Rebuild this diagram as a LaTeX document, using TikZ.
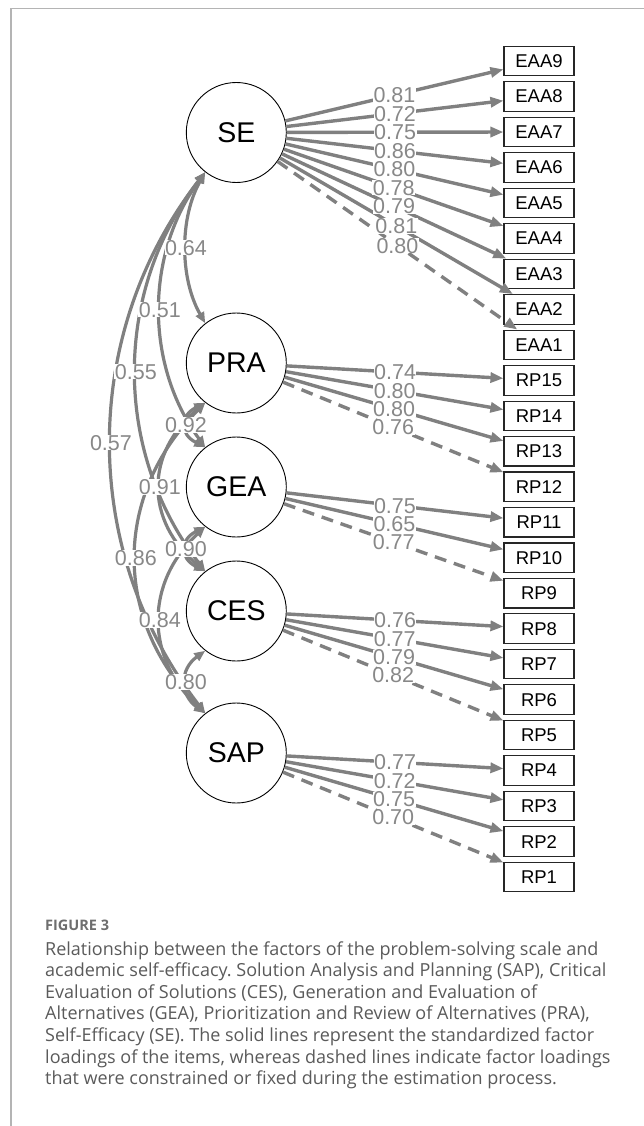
\documentclass[tikz,border=0pt]{standalone}
\usepackage{fontspec}
\setmainfont{Liberation Sans}
\newfontfamily\capfont{Open Sans}
\usetikzlibrary{arrows.meta}
\frenchspacing
\definecolor{edgegray}{HTML}{808080}
\definecolor{labgray}{HTML}{888888}
\definecolor{capgray}{HTML}{5A5A5A}
\definecolor{figgray}{HTML}{6E6E6E}
\definecolor{framegray}{HTML}{B4B4B4}
\begin{document}
\begin{tikzpicture}[x=1pt,y=-1pt,
 lat/.style={circle,draw=black,line width=0.9pt,fill=white,minimum size=100pt,inner sep=0pt,font=\fontsize{28.5}{30}\selectfont},
 item/.style={rectangle,draw=black!85,line width=1.1pt,fill=white,minimum width=70pt,minimum height=29.5pt,inner sep=0pt,font=\fontsize{18.5}{20}\selectfont},
 load/.style={draw=edgegray,line width=3.4pt,-{Triangle[length=13pt,width=10pt]}},
 fixed/.style={load,dash pattern=on 12pt off 8pt},
 cov/.style={draw=edgegray,line width=3.2pt,{Triangle[length=11pt,width=9pt]}-{Triangle[length=11pt,width=9pt]}},
 lab/.style={fill=white,text=labgray,inner xsep=0.5pt,inner ysep=0pt,text height=15.2pt,text depth=0pt,font=\fontsize{21.5}{22}\selectfont},
 capline/.style={anchor=base west,inner sep=0pt,text=capgray,font=\capfont\fontsize{18}{21.6}\selectfont},
]
\useasboundingbox (0,0) rectangle (644,1126);
\draw[framegray,line width=1.2pt] (11,1126) -- (11,8.5) -- (644,8.5);

% latent factors
\node[lat] (SE)  at (236.3,132.5) {SE};
\node[lat] (PRA) at (236.3,363) {PRA};
\node[lat] (GEA) at (236.3,487) {GEA};
\node[lat] (CES) at (236.3,611) {CES};
\node[lat] (SAP) at (236.3,753) {SAP};

% items
\foreach \n [count=\i from 0] in {EAA9,EAA8,EAA7,EAA6,EAA5,EAA4,EAA3,EAA2,EAA1,RP15,RP14,RP13,RP12,RP11,RP10,RP9,RP8,RP7,RP6,RP5,RP4,RP3,RP2,RP1}
  \node[item] (\n) at (539,61+35.48*\i) {\n};

% loadings
\foreach \f/\t/\s in {SE/EAA9/load,SE/EAA8/load,SE/EAA7/load,SE/EAA6/load,SE/EAA5/load,SE/EAA4/load,SE/EAA3/load,SE/EAA2/load,SE/EAA1/fixed,
  PRA/RP15/load,PRA/RP14/load,PRA/RP13/load,PRA/RP12/fixed,
  GEA/RP11/load,GEA/RP10/load,GEA/RP9/fixed,
  CES/RP8/load,CES/RP7/load,CES/RP6/load,CES/RP5/fixed,
  SAP/RP4/load,SAP/RP3/load,SAP/RP2/load,SAP/RP1/fixed}
  \draw[\s] (\f) -- coordinate[pos=0.5] (m\t) (\t);

% covariances
\draw[cov] (SE.232) .. controls (179.5,217.4) and (179.5,278.1) .. coordinate[pos=0.5] (cSEPRA) (PRA.128);
\draw[cov] (PRA.232) .. controls (179.5,416.0) and (179.5,434.0) .. coordinate[pos=0.5] (cPRAGEA) (GEA.128);
\draw[cov] (GEA.232) .. controls (179.5,540.0) and (179.5,558.0) .. coordinate[pos=0.5] (cGEACES) (CES.128);
\draw[cov] (CES.232) .. controls (179.5,669.4) and (179.5,694.6) .. coordinate[pos=0.5] (cCESSAP) (SAP.128);
\draw[cov] (SE.232) .. controls (144.8,254.6) and (144.8,364.9) .. coordinate[pos=0.5] (cSEGEA) (GEA.128);
\draw[cov] (PRA.232) .. controls (144.8,453.2) and (144.8,520.8) .. coordinate[pos=0.5] (cPRACES) (CES.128);
\draw[cov] (GEA.232) .. controls (144.8,582.6) and (144.8,657.4) .. coordinate[pos=0.5] (cGEASAP) (SAP.128);
\draw[cov] (SE.232) .. controls (112.8,291.8) and (112.8,451.7) .. coordinate[pos=0.5] (cSECES) (CES.128);
\draw[cov] (PRA.232) .. controls (112.8,495.8) and (112.8,620.2) .. coordinate[pos=0.5] (cPRASAP) (SAP.128);
\draw[cov] (SE.232) .. controls (79.5,334.4) and (79.5,551.1) .. coordinate[pos=0.5] (cSESAP) (SAP.128);

% loading labels
\foreach \t/\v in {EAA9/0.81,EAA8/0.72,EAA7/0.75,EAA6/0.86,EAA5/0.80,EAA4/0.78,EAA3/0.79,EAA2/0.81,EAA1/0.80,
  RP15/0.74,RP14/0.80,RP13/0.80,RP12/0.76,RP11/0.75,RP10/0.65,RP9/0.77,
  RP8/0.76,RP7/0.77,RP6/0.79,RP5/0.82,RP4/0.77,RP3/0.72,RP2/0.75,RP1/0.70}
  \node[lab] (l\t) at (m\t) {\v};

% covariance labels
\foreach \c/\v in {SEPRA/0.64,PRAGEA/0.92,GEACES/0.90,CESSAP/0.80,SEGEA/0.51,PRACES/0.91,GEASAP/0.84,SECES/0.55,PRASAP/0.86,SESAP/0.57}
  \node[lab] (k\c) at (c\c) {\v};

% caption
\node[anchor=base west,inner sep=0pt,text=figgray,font=\capfont\bfseries\fontsize{14.5}{16}\selectfont] (fig) at (45,930.5) {FIGURE 3};
\node[capline] (cap1) at (45,955.0) {Relationship between the factors of the problem-solving scale and};
\node[capline] (cap2) at (45,976.6) {academic self-efficacy. Solution Analysis and Planning (SAP), Critical};
\node[capline] (cap3) at (45,998.2) {Evaluation of Solutions (CES), Generation and Evaluation of};
\node[capline] (cap4) at (45,1019.8) {Alternatives (GEA), Prioritization and Review of Alternatives (PRA),};
\node[capline] (cap5) at (45,1041.4) {Self-Efficacy (SE). The solid lines represent the standardized factor};
\node[capline] (cap6) at (45,1063.0) {loadings of the items, whereas dashed lines indicate factor loadings};
\node[capline] (cap7) at (45,1084.6) {that were constrained or fixed during the estimation process.};
\end{tikzpicture}
\end{document}
